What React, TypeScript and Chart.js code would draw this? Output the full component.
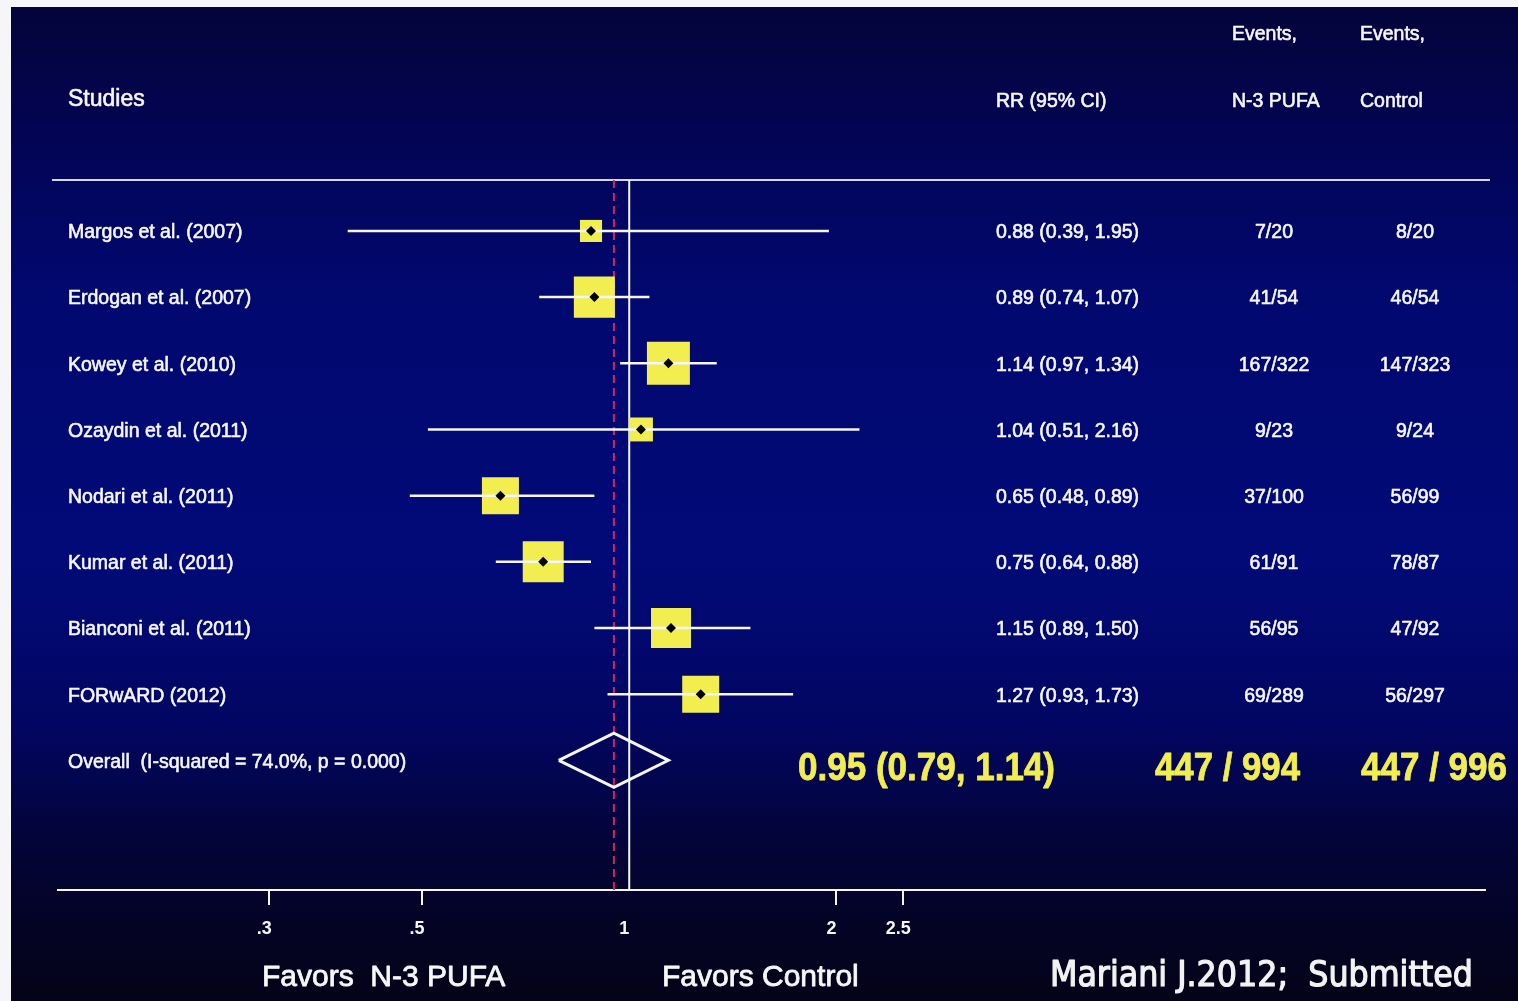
import React, { useEffect, useRef } from "react";
import { Chart, registerables } from "chart.js";

Chart.register(...registerables);

// Study-level data (risk ratios with 95% CI)
const studies = [
  "Margos et al. (2007)",
  "Erdogan et al. (2007)",
  "Kowey et al. (2010)",
  "Ozaydin et al. (2011)",
  "Nodari et al. (2011)",
  "Kumar et al. (2011)",
  "Bianconi et al. (2011)",
  "FORwARD (2012)",
];
const rr = [0.88, 0.89, 1.14, 1.04, 0.65, 0.75, 1.15, 1.27];
const ciLow = [0.39, 0.74, 0.97, 0.51, 0.48, 0.64, 0.89, 0.93];
const ciHigh = [1.95, 1.07, 1.34, 2.16, 0.89, 0.88, 1.5, 1.73];
// relative study weights (%), drive the box areas
const weights = [4.6, 15.9, 17.4, 5.4, 12.9, 15.8, 15.1, 12.9];
const eventsPufa = ["7/20", "41/54", "167/322", "9/23", "37/100", "61/91", "56/95", "69/289"];
const eventsControl = ["8/20", "46/54", "147/323", "9/24", "56/99", "78/87", "47/92", "56/297"];

// Pooled estimate
const pooled = [0.95, 0.79, 1.14]; // RR, lower, upper
const pooledEvents = ["447 / 994", "447 / 996"];
const iSquared = 74.0;
const pValue = 0.0;

// Axis ticks
const tickValues = [0.3, 0.5, 1, 2, 2.5];
const tickLabels = [".3", ".5", "1", "2", "2.5"];

const SANS = "'Liberation Sans', Arial, Helvetica, sans-serif";
const WHITE = "#f6f6fb";
const YELLOW = "#f2ee50";
const BOX_SCALE = 10.3;
const DIAMOND_HALF = 0.41;
const Y_MIN = 0.23;
const Y_MAX = 10.96;

function drawLabel(
  ctx: CanvasRenderingContext2D,
  text: string,
  x: number,
  y: number,
  font: string,
  color: string,
  align: CanvasTextAlign = "left",
  sx = 1,
  baseline: CanvasTextBaseline = "middle",
  heavy = 0
) {
  ctx.save();
  ctx.font = font;
  ctx.fillStyle = color;
  ctx.textAlign = align;
  ctx.textBaseline = baseline;
  ctx.translate(x, y);
  ctx.scale(sx, 1);
  ctx.fillText(text, 0, 0);
  if (heavy > 0) {
    ctx.strokeStyle = color;
    ctx.lineWidth = heavy;
    ctx.lineJoin = "round";
    ctx.strokeText(text, 0, 0);
  }
  ctx.restore();
}

function drawFitted(
  ctx: CanvasRenderingContext2D,
  text: string,
  x: number,
  y: number,
  width: number,
  font: string,
  color: string,
  baseline: CanvasTextBaseline = "middle",
  heavy = 0
) {
  ctx.save();
  ctx.font = font;
  const w = ctx.measureText(text).width;
  ctx.restore();
  drawLabel(ctx, text, x, y, font, color, "left", width / w, baseline, heavy);
}

const panelBackground = {
  id: "panelBackground",
  beforeDraw(chart: any) {
    const { ctx, width, height } = chart;
    ctx.save();
    ctx.fillStyle = "#f6f6f8";
    ctx.fillRect(0, 0, width, height);
    const top = 7;
    const left = 11;
    const g = ctx.createLinearGradient(0, top, 0, height);
    g.addColorStop(0, "#04043a");
    g.addColorStop(0.12, "#030452");
    g.addColorStop(0.28, "#01086e");
    g.addColorStop(0.55, "#010a78");
    g.addColorStop(0.72, "#020662");
    g.addColorStop(0.84, "#030438");
    g.addColorStop(0.93, "#040324");
    g.addColorStop(1, "#050318");
    ctx.fillStyle = g;
    ctx.fillRect(left, top, width - left, height - top);
    ctx.restore();
  },
  beforeDatasetsDraw(chart: any) {
    const { ctx, chartArea } = chart;
    ctx.save();
    ctx.strokeStyle = "#d6d6f4";
    ctx.lineWidth = 2;
    ctx.beginPath();
    ctx.moveTo(52, chartArea.top);
    ctx.lineTo(1490, chartArea.top);
    ctx.stroke();
    ctx.restore();
  },
};

const tableText = {
  id: "tableText",
  afterDraw(chart: any) {
    const { ctx, scales } = chart;
    const yOf = (row: number) => scales.y.getPixelForValue(row) + 2;
    const f20 = `19.5px ${SANS}`;
    const hv = 0.6;

    drawLabel(ctx, "Studies", 68, 100, `23px ${SANS}`, WHITE, "left", 1, "middle", hv);
    drawLabel(ctx, "RR (95% CI)", 996, 102, f20, WHITE, "left", 1, "middle", hv);
    drawLabel(ctx, "Events,", 1232, 35, f20, WHITE, "left", 1, "middle", hv);
    drawLabel(ctx, "Events,", 1360, 35, f20, WHITE, "left", 1, "middle", hv);
    drawLabel(ctx, "N-3 PUFA", 1232, 102, f20, WHITE, "left", 1, "middle", hv);
    drawLabel(ctx, "Control", 1360, 102, f20, WHITE, "left", 1, "middle", hv);

    studies.forEach((name, i) => {
      const y = yOf(i + 1);
      drawLabel(ctx, name, 68, y, f20, WHITE, "left", 1, "middle", hv);
      const est = `${rr[i].toFixed(2)} (${ciLow[i].toFixed(2)}, ${ciHigh[i].toFixed(2)})`;
      drawLabel(ctx, est, 996, y, f20, WHITE, "left", 1, "middle", hv);
      drawLabel(ctx, eventsPufa[i], 1274, y, f20, WHITE, "center", 1, "middle", hv);
      drawLabel(ctx, eventsControl[i], 1415, y, f20, WHITE, "center", 1, "middle", hv);
    });

    const py = yOf(studies.length + 1);
    drawLabel(
      ctx,
      `Overall  (I-squared = ${iSquared.toFixed(1)}%, p = ${pValue.toFixed(3)})`,
      68,
      py,
      f20,
      WHITE,
      "left",
      1,
      "middle",
      hv
    );
    const big = `bold 38px ${SANS}`;
    const est = `${pooled[0].toFixed(2)} (${pooled[1].toFixed(2)}, ${pooled[2].toFixed(2)})`;
    drawFitted(ctx, est, 798, py + 7, 257, big, YELLOW, "middle", 0.8);
    drawFitted(ctx, pooledEvents[0], 1155, py + 7, 145, big, YELLOW, "middle", 0.8);
    drawFitted(ctx, pooledEvents[1], 1361, py + 7, 146, big, YELLOW, "middle", 0.8);

    drawLabel(ctx, "Favors  N-3 PUFA", 262, 986, `30px ${SANS}`, WHITE, "left", 1, "alphabetic", 0.8);
    drawLabel(ctx, "Favors Control", 662, 986, `30px ${SANS}`, WHITE, "left", 1, "alphabetic", 0.8);
    drawFitted(
      ctx,
      "Mariani J.2012;  Submitted",
      1050,
      986,
      423,
      `36px 'DejaVu Sans Condensed', 'DejaVu Sans', sans-serif`,
      "#f2f2f2",
      "alphabetic",
      1.2
    );
  },
};

export default function App() {
  const ref = useRef<HTMLCanvasElement>(null);

  useEffect(() => {
    document.body.style.margin = "0";
    const canvas = ref.current;
    if (!canvas) return;

    const rows = studies.map((_, i) => i + 1);
    const pooledRow = studies.length + 1;

    const ciSets = studies.map((name, i) => ({
      label: `${name} CI`,
      data: [
        { x: ciLow[i], y: rows[i] },
        { x: ciHigh[i], y: rows[i] },
      ],
      showLine: true,
      borderColor: WHITE,
      borderWidth: 2.5,
      pointRadius: 0,
      order: 2,
    }));

    const chart = new Chart(canvas, {
      type: "scatter",
      data: {
        datasets: [
          {
            label: "point estimate",
            data: rr.map((v, i) => ({ x: v, y: rows[i] })),
            pointStyle: "rectRot",
            pointRadius: 5,
            pointBackgroundColor: "#000000",
            pointBorderWidth: 0,
            order: 0,
          },
          ...ciSets,
          {
            label: "study weight",
            data: rr.map((v, i) => ({ x: v, y: rows[i] })),
            pointStyle: "rect",
            pointRadius: weights.map((w) => (Math.sqrt(w) * BOX_SCALE) / Math.SQRT2),
            pointBackgroundColor: YELLOW,
            pointBorderWidth: 0,
            order: 3,
          },
          {
            label: "overall",
            data: [
              { x: pooled[1], y: pooledRow },
              { x: pooled[0], y: pooledRow - DIAMOND_HALF },
              { x: pooled[2], y: pooledRow },
              { x: pooled[0], y: pooledRow + DIAMOND_HALF },
              { x: pooled[1], y: pooledRow },
            ],
            showLine: true,
            borderColor: WHITE,
            borderWidth: 3,
            borderJoinStyle: "miter",
            pointRadius: 0,
            order: 1,
          },
          {
            label: "no effect",
            data: [
              { x: 1, y: Y_MIN },
              { x: 1, y: Y_MAX },
            ],
            showLine: true,
            borderColor: WHITE,
            borderWidth: 2,
            pointRadius: 0,
            order: 4,
          },
          {
            label: "overall effect",
            data: [
              { x: pooled[0], y: Y_MIN },
              { x: pooled[0], y: Y_MAX },
            ],
            showLine: true,
            borderColor: "#d6235f",
            borderWidth: 2,
            borderDash: [8, 5],
            pointRadius: 0,
            order: 4,
          },
        ],
      },
      options: {
        animation: false,
        responsive: false,
        devicePixelRatio: 1,
        events: [],
        layout: { padding: { left: 58, right: 33, top: 180, bottom: 0 } },
        plugins: {
          legend: { display: false },
          tooltip: { enabled: false },
        },
        scales: {
          x: {
            type: "logarithmic",
            min: 0.148,
            max: 17.5,
            afterBuildTicks: (s: any) => {
              s.ticks = tickValues.map((v) => ({ value: v }));
            },
            afterFit: (s: any) => {
              s.height = 111;
            },
            ticks: {
              autoSkip: false,
              maxRotation: 0,
              padding: 13,
              labelOffset: -5,
              color: WHITE,
              font: { family: SANS, size: 18, weight: "bold" },
              callback: (v: any) => {
                const k = tickValues.indexOf(Number(v));
                return k >= 0 ? tickLabels[k] : "";
              },
            },
            grid: {
              drawOnChartArea: false,
              drawTicks: true,
              tickLength: 15,
              lineWidth: 2,
              color: (c: any) => (c.tick && c.tick.value === 1 ? "rgba(0,0,0,0)" : WHITE),
            },
            border: { display: true, color: WHITE, width: 2 },
          },
          y: {
            type: "linear",
            reverse: true,
            min: Y_MIN,
            max: Y_MAX,
            display: false,
          },
        },
      },
      plugins: [panelBackground, tableText],
    } as any);

    return () => chart.destroy();
  }, []);

  return (
    <div style={{ width: 1518, height: 1001 }}>
      <canvas ref={ref} width={1518} height={1001} style={{ display: "block", width: 1518, height: 1001 }} />
    </div>
  );
}
